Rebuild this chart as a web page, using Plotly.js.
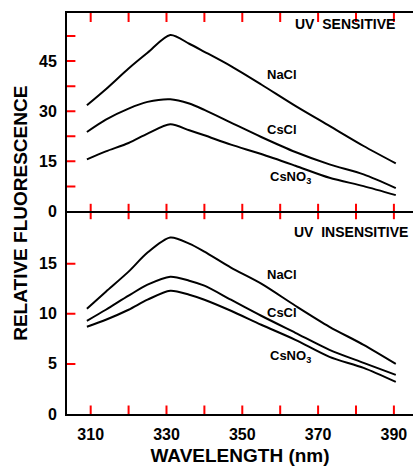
<!DOCTYPE html>
<html>
<head>
<meta charset="utf-8">
<script src="https://cdn.plot.ly/plotly-3.0.1.min.js"></script>
<style>html,body{margin:0;padding:0;background:#fff;}#chart{width:413px;height:470px;}</style>
</head>
<body>
<div id="chart"></div>
<script>
// Wavelength (nm)
var wavelength = [309, 314, 320, 325, 331, 336, 340, 347, 355, 364, 373, 382, 390.5];

// UV sensitive (top panel)
var sensNaCl  = [31.8, 36.6, 42.8, 47.5, 52.8, 50.2, 47.8, 43.5, 38.0, 31.6, 25.6, 19.6, 14.4];
var sensCsCl  = [23.8, 27.5, 30.8, 32.8, 33.6, 32.3, 30.4, 26.6, 22.3, 17.8, 14.1, 11.1, 7.0];
var sensCsNO3 = [15.6, 18.0, 20.5, 23.3, 26.1, 24.3, 22.8, 20.0, 17.2, 13.7, 10.1, 7.6, 4.9];

// UV insensitive (bottom panel)
var insNaCl  = [10.5, 12.2, 14.2, 16.1, 17.6, 17.0, 16.2, 14.6, 13.0, 10.8, 8.7, 6.9, 5.0];
var insCsCl  = [9.3, 10.4, 11.8, 12.9, 13.7, 13.3, 12.8, 11.4, 9.8, 8.1, 6.4, 5.1, 3.9];
var insCsNO3 = [8.7, 9.4, 10.4, 11.4, 12.3, 11.9, 11.4, 10.3, 8.9, 7.4, 5.7, 4.6, 3.2];

// Ticks and axis ranges
var xTickVals = [310, 320, 330, 340, 350, 360, 370, 380, 390];
var xLabelVals = [310, 330, 350, 370, 390];
var topTickVals = [0, 15, 30, 45];
var topTickMarks = [7.5, 15, 22.5, 30, 37.5, 45, 52.5];
var botTickVals = [0, 5, 10, 15];
var botTickMarks = [5, 10, 15];
var xRange = [303.75, 395.04];
var topRange = [0, 59.4];
var botRange = [0, 20.2];

var FONT = 'Liberation Sans, Arial, sans-serif';
var TICKCOL = 'red';
function line(x, y, xa, ya) {
  return {x: x, y: y, xaxis: xa, yaxis: ya, type: 'scatter', mode: 'lines',
          line: {color: '#000', width: 2, shape: 'spline', smoothing: 0.8},
          hoverinfo: 'skip', showlegend: false};
}
function tickMarks(x, y, xa, ya, symbol, size, clip) {
  return {x: x, y: y, xaxis: xa, yaxis: ya, type: 'scatter', mode: 'markers',
          cliponaxis: clip, hoverinfo: 'skip', showlegend: false,
          marker: {symbol: symbol, size: size, color: TICKCOL, line: {width: 2, color: TICKCOL}}};
}
function fill(arr, v) { return arr.map(function () { return v; }); }

var data = [
  line(wavelength, sensNaCl, 'x2', 'y2'),
  line(wavelength, sensCsCl, 'x2', 'y2'),
  line(wavelength, sensCsNO3, 'x2', 'y2'),
  line(wavelength, insNaCl, 'x', 'y'),
  line(wavelength, insCsCl, 'x', 'y'),
  line(wavelength, insCsNO3, 'x', 'y'),
  tickMarks(xTickVals, fill(xTickVals, topRange[1]), 'x2', 'y2', 'line-ns-open', 13, true),
  tickMarks(xTickVals, fill(xTickVals, topRange[0]), 'x2', 'y2', 'line-ns-open', 11, false),
  tickMarks(xTickVals, fill(xTickVals, botRange[0]), 'x', 'y', 'line-ns-open', 12, true),
  tickMarks(fill(topTickMarks, xRange[0]), topTickMarks, 'x2', 'y2', 'line-ew-open', 12, true),
  tickMarks(fill(botTickMarks, xRange[0]), botTickMarks, 'x', 'y', 'line-ew-open', 12, true)
];

var tickFont = {family: FONT, size: 16, color: '#000', weight: 'bold'};
function axis(extra) {
  var a = {showline: true, linecolor: '#000', linewidth: 2, ticks: '',
           showgrid: false, zeroline: false, mirror: false};
  for (var k in extra) a[k] = extra[k];
  return a;
}
function lab(text, x, y, xa, ya, size, anchor) {
  return {text: '<b>' + text + '</b>', x: x, y: y, xref: xa, yref: ya, showarrow: false,
          xanchor: anchor || 'center', yanchor: 'middle',
          font: {family: FONT, size: size || 13, color: '#000'}};
}

var layout = {
  width: 413, height: 470,
  margin: {l: 67, r: 0, t: 13, b: 56},
  paper_bgcolor: '#fff', plot_bgcolor: '#fff',
  showlegend: false,
  xaxis: axis({anchor: 'y', range: xRange, tickvals: xLabelVals, tickfont: tickFont, ticklabelstandoff: 5,
    title: {text: '<b>WAVELENGTH (nm)</b>', font: {family: FONT, size: 19, color: '#000'}, standoff: 6}}),
  xaxis2: axis({anchor: 'y2', range: xRange, mirror: true, showticklabels: false}),
  yaxis: axis({domain: [0, 0.505], range: botRange, tickvals: botTickVals, tickfont: tickFont, ticklabelstandoff: 5}),
  yaxis2: axis({domain: [0.505, 1], range: topRange, tickvals: topTickVals, tickfont: tickFont, ticklabelstandoff: 5}),
  annotations: [
    lab('UV\u00a0 SENSITIVE', 377, 56.1, 'x2', 'y2', 14),
    lab('NaCl', 360.5, 41.1, 'x2', 'y2'),
    lab('CsCl', 360.5, 24.6, 'x2', 'y2'),
    lab('CsNO<sub>3</sub>', 362.6, 10.2, 'x2', 'y2'),
    lab('UV\u00a0 INSENSITIVE', 363.1, 18.2, 'x', 'y', 14, 'left'),
    lab('NaCl', 360.5, 13.9, 'x', 'y'),
    lab('CsCl', 360.5, 10.1, 'x', 'y'),
    lab('CsNO<sub>3</sub>', 362.6, 5.7, 'x', 'y'),
    {text: '<b>RELATIVE FLUORESCENCE</b>', xref: 'paper', yref: 'paper', x: -0.135, y: 0.5,
     xanchor: 'center', yanchor: 'middle', textangle: -90, showarrow: false,
     font: {family: FONT, size: 19, color: '#000'}}
  ]
};

Plotly.newPlot('chart', data, layout, {displayModeBar: false, staticPlot: true});
</script>
</body>
</html>
